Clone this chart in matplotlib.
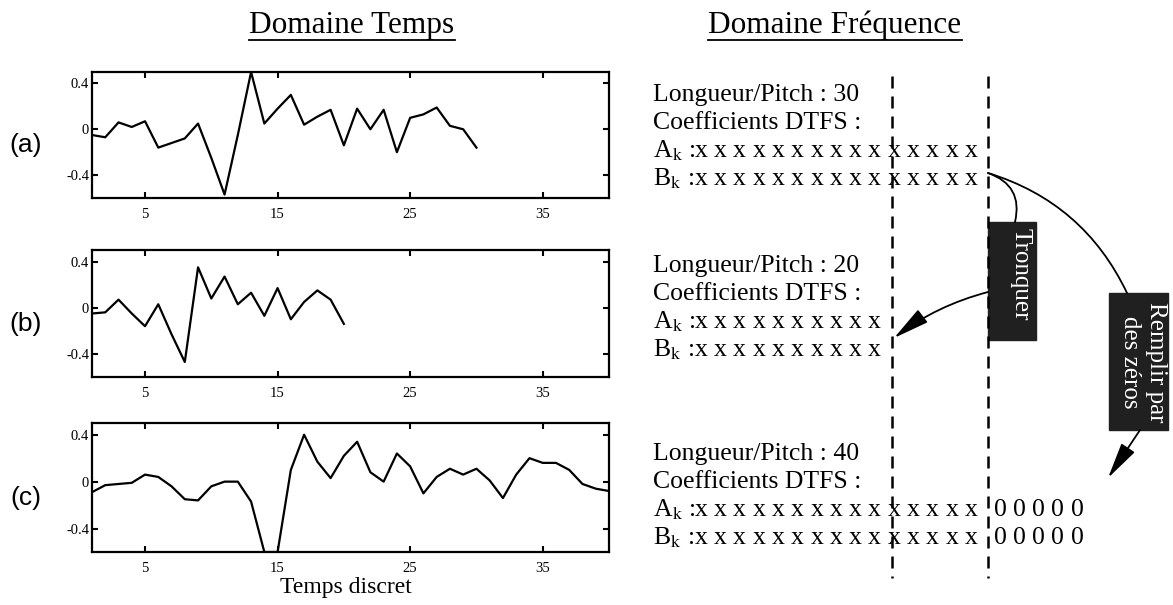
import matplotlib
matplotlib.use("Agg")
import matplotlib.pyplot as plt
from matplotlib.patches import FancyArrowPatch, Rectangle

W, H, DPI = 1173, 605, 100
SERIF = "Liberation Serif"
plt.rcParams["mathtext.fontset"] = "stix"

# ---- time-domain signals (one pitch period each)
T_A = list(range(1, 31))
Y_A = [-0.05, -0.07, 0.06, 0.02, 0.07, -0.16, -0.12, -0.08, 0.05, -0.25,
       -0.57, -0.05, 0.50, 0.05, 0.18, 0.30, 0.04, 0.11, 0.17, -0.14,
       0.18, 0.00, 0.17, -0.20, 0.10, 0.13, 0.19, 0.03, 0.00, -0.16]
T_B = list(range(1, 21))
Y_B = [-0.05, -0.04, 0.07, -0.05, -0.16, 0.03, -0.23, -0.47, 0.35, 0.08,
       0.27, 0.03, 0.13, -0.07, 0.17, -0.10, 0.05, 0.15, 0.07, -0.14]
T_C = list(range(1, 41))
Y_C = [-0.09, -0.03, -0.02, -0.01, 0.06, 0.04, -0.04, -0.15, -0.16, -0.04,
       0.00, 0.00, -0.17, -0.60, -0.60, 0.10, 0.40, 0.17, 0.03, 0.22,
       0.34, 0.08, 0.00, 0.24, 0.13, -0.10, 0.04, 0.11, 0.06, 0.11,
       0.01, -0.14, 0.06, 0.20, 0.16, 0.16, 0.10, -0.02, -0.06, -0.08]
SIGNALS = [(T_A, Y_A), (T_B, Y_B), (T_C, Y_C)]
PANEL_LABELS = ["(a)", "(b)", "(c)"]
XTICKS = [5, 15, 25, 35]
YTICKS = [-0.4, 0, 0.4]
YTICKLABELS = ["-0.4", "0", "0.4"]

# ---- frequency-domain rows
PITCH = [30, 20, 40]
N_COEF = [15, 10, 15]
N_ZERO = [0, 0, 5]

fig = plt.figure(figsize=(W / DPI, H / DPI), dpi=DPI)

# panel boxes in pixels: (left, top, right, bottom)
boxes = [(92, 72, 609, 198), (92, 250, 609, 377), (92, 423, 609, 552)]
for (t, y), lab, (l, tp, r, b) in zip(SIGNALS, PANEL_LABELS, boxes):
    ax = fig.add_axes([l / W, 1 - b / H, (r - l) / W, (b - tp) / H])
    ax.plot(t, y, color="black", linewidth=1.6)
    ax.set_xlim(1, 40)
    ax.set_ylim(-0.6, 0.5)
    ax.set_xticks(XTICKS)
    ax.set_yticks(YTICKS)
    ax.set_yticklabels(YTICKLABELS)
    ax.tick_params(direction="in", top=True, right=True, length=4, width=1.5,
                   labelsize=10.5)
    ax.tick_params(axis="x", pad=7)
    ax.tick_params(axis="y", pad=2)
    for tl in ax.get_xticklabels() + ax.get_yticklabels():
        tl.set_family(SERIF)
    for s in ax.spines.values():
        s.set_linewidth(1.6)
    ax.text(-0.128, 0.42, lab, transform=ax.transAxes, fontsize=19,
            family="Liberation Sans", ha="center", va="center")

# overlay in pixel coordinates for the diagram part
ov = fig.add_axes([0, 0, 1, 1])
ov.set_xlim(0, W)
ov.set_ylim(H, 0)
ov.axis("off")

ov.text(346, 588, "Temps discret", fontsize=17, family=SERIF, ha="center", va="center")

titles = [(352, "Domaine Temps"), (835, "Domaine Fréquence")]
title_texts = []
for x, s in titles:
    title_texts.append(ov.text(x, 25, s, fontsize=22.5, family=SERIF, ha="center", va="center"))

# dashed separators
for x in (892, 988):
    ov.plot([x, x], [76, 578], color="black", linewidth=1.8, linestyle=(0, (4.8, 3.2)))

fs = 18.5
group_top = [95, 266, 454]
step = 28
x0, dx = 701, 19.3
for top, p, nc, nz in zip(group_top, PITCH, N_COEF, N_ZERO):
    ov.text(653, top, f"Longueur/Pitch : {p}", fontsize=fs, family=SERIF, va="center")
    ov.text(653, top + step, "Coefficients DTFS :", fontsize=fs, family=SERIF, va="center")
    for r, name in enumerate(["A", "B"]):
        yy = top + step * (2 + r)
        ov.text(653, yy, name + r"$_{\mathrm{k}}$ :", fontsize=fs, family=SERIF, va="center")
        for i in range(nc):
            ov.text(x0 + dx * i, yy, "x", fontsize=fs, family=SERIF, ha="center", va="center")
        for j in range(nz):
            ov.text(1000 + 19.3 * j, yy, "0", fontsize=fs, family=SERIF, ha="center", va="center")

# dark label boxes
box_c = "#202020"
ov.add_patch(Rectangle((988, 222), 48, 118, facecolor=box_c, edgecolor=box_c))
ov.text(1021, 274, "Tronquer", rotation=-90, color="white", fontsize=18, family=SERIF,
        ha="center", va="center")
ov.add_patch(Rectangle((1109, 293), 59, 137, facecolor=box_c, edgecolor=box_c))
ov.text(1156, 362, "Remplir par", rotation=-90, color="white", fontsize=18, family=SERIF,
        ha="center", va="center")
ov.text(1130, 362, "des zéros", rotation=-90, color="white", fontsize=18, family=SERIF,
        ha="center", va="center")

# connectors
head = "-|>,head_length=1.6,head_width=0.35"
ov.add_patch(FancyArrowPatch((988, 173), (1015, 222), arrowstyle="-",
                             connectionstyle="arc3,rad=-0.45", color="black", linewidth=1.3,
                             shrinkA=0, shrinkB=0))
ov.add_patch(FancyArrowPatch((988, 173), (1127, 293), arrowstyle="-",
                             connectionstyle="arc3,rad=-0.22", color="black", linewidth=1.3,
                             shrinkA=0, shrinkB=0))
ov.add_patch(FancyArrowPatch((988, 292), (894, 338), arrowstyle=head,
                             mutation_scale=14, connectionstyle="arc3,rad=0.1",
                             color="black", linewidth=1.3, shrinkA=0, shrinkB=0))
ov.add_patch(FancyArrowPatch((1140, 430), (1108, 478), arrowstyle=head,
                             mutation_scale=14, color="black", linewidth=1.3,
                             shrinkA=0, shrinkB=0))

# underline the two headings
fig.canvas.draw()
inv = ov.transData.inverted()
for t in title_texts:
    bb = t.get_window_extent()
    (xa, ya), (xb, yb) = inv.transform([[bb.x0, bb.y0], [bb.x1, bb.y1]])
    ov.plot([xa, xb], [max(ya, yb), max(ya, yb)], color="black", linewidth=1.3)

fig.savefig("out.png", dpi=DPI, facecolor="white")
